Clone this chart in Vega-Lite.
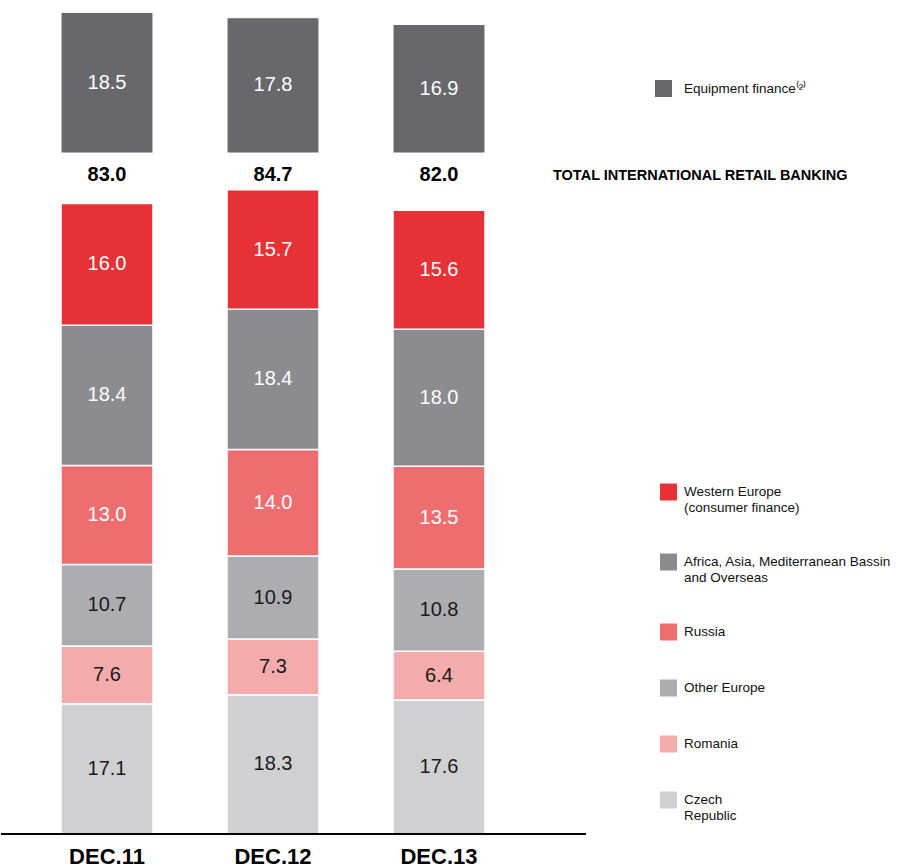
{
  "$schema": "https://vega.github.io/schema/vega-lite/v6.json",
  "padding": {"left": 0, "top": 11, "right": 0, "bottom": 0},
  "config": {
    "view": {"stroke": null},
    "font": "Liberation Sans",
    "concat": {"spacing": 0}
  },
  "datasets": {
    "equipment": [
      {"period": "DEC.11", "segment": "Equipment finance", "value": 18.5},
      {"period": "DEC.12", "segment": "Equipment finance", "value": 17.8},
      {"period": "DEC.13", "segment": "Equipment finance", "value": 16.9}
    ],
    "retail": [
      {"period": "DEC.11", "segment": "Czech\nRepublic", "value": 17.1},
      {"period": "DEC.11", "segment": "Romania", "value": 7.6},
      {"period": "DEC.11", "segment": "Other Europe", "value": 10.7},
      {"period": "DEC.11", "segment": "Russia", "value": 13.0},
      {"period": "DEC.11", "segment": "Africa, Asia, Mediterranean Bassin\nand Overseas", "value": 18.4},
      {"period": "DEC.11", "segment": "Western Europe\n(consumer finance)", "value": 16.0},
      {"period": "DEC.12", "segment": "Czech\nRepublic", "value": 18.3},
      {"period": "DEC.12", "segment": "Romania", "value": 7.3},
      {"period": "DEC.12", "segment": "Other Europe", "value": 10.9},
      {"period": "DEC.12", "segment": "Russia", "value": 14.0},
      {"period": "DEC.12", "segment": "Africa, Asia, Mediterranean Bassin\nand Overseas", "value": 18.4},
      {"period": "DEC.12", "segment": "Western Europe\n(consumer finance)", "value": 15.7},
      {"period": "DEC.13", "segment": "Czech\nRepublic", "value": 17.6},
      {"period": "DEC.13", "segment": "Romania", "value": 6.4},
      {"period": "DEC.13", "segment": "Other Europe", "value": 10.8},
      {"period": "DEC.13", "segment": "Russia", "value": 13.5},
      {"period": "DEC.13", "segment": "Africa, Asia, Mediterranean Bassin\nand Overseas", "value": 18.0},
      {"period": "DEC.13", "segment": "Western Europe\n(consumer finance)", "value": 15.6}
    ],
    "totals": [
      {"period": "DEC.11", "total": 83.0},
      {"period": "DEC.12", "total": 84.7},
      {"period": "DEC.13", "total": 82.0}
    ]
  },
  "resolve": {"scale": {"color": "independent"}, "legend": {"color": "independent"}},
  "vconcat": [
    {
      "width": 585,
      "height": 141,
      "data": {"name": "equipment"},
      "layer": [
        {
          "mark": {"type": "bar", "stroke": "white", "strokeWidth": 1},
          "encoding": {
            "x": {"field": "period", "type": "nominal", "axis": null,
                  "scale": {"range": [23, 521], "paddingInner": 0.446, "paddingOuter": 0.223}},
            "y": {"field": "value", "type": "quantitative", "stack": "zero", "axis": null,
                  "scale": {"domain": [0, 18.55], "nice": false, "zero": true}},
            "color": {
              "field": "segment", "type": "nominal",
              "scale": {"domain": ["Equipment finance"], "range": ["#68676c"]},
              "legend": {
                "orient": "none", "legendX": 654, "legendY": 68, "title": null,
                "padding": 0, "symbolType": "square", "symbolSize": 289,
                "symbolStrokeWidth": 0, "labelOffset": 12, "labelFontSize": 13.5,
                "labelColor": "#111111", "labelLimit": 300,
                "labelExpr": "datum.label + '⁽²⁾'"
              }
            }
          }
        },
        {
          "mark": {"type": "text", "fontSize": 20, "color": "white", "baseline": "middle"},
          "encoding": {
            "x": {"field": "period", "type": "nominal"},
            "y": {"field": "value", "type": "quantitative", "stack": "zero", "bandPosition": 0.5},
            "text": {"field": "value", "type": "quantitative", "format": ".1f"}
          }
        }
      ]
    },
    {
      "width": 585,
      "height": 680,
      "layer": [
        {
          "data": {"name": "retail"},
          "transform": [
            {"calculate": "indexof(['Czech\\nRepublic', 'Romania', 'Other Europe', 'Russia', 'Africa, Asia, Mediterranean Bassin\\nand Overseas', 'Western Europe\\n(consumer finance)'], datum.segment)", "as": "stackOrder"}
          ],
          "mark": {"type": "bar", "stroke": "white", "strokeWidth": 1.5},
          "encoding": {
            "x": {"field": "period", "type": "nominal",
                  "scale": {"range": [23, 521], "paddingInner": 0.446, "paddingOuter": 0.223},
                  "axis": {"title": null, "domain": false, "ticks": false, "labelAngle": 0,
                           "labelFontSize": 22, "labelFontWeight": "bold", "labelColor": "black",
                           "labelPadding": 12}},
            "y": {"field": "value", "type": "quantitative", "stack": "zero", "axis": null,
                  "scale": {"domain": [0, 89.3], "nice": false}},
            "order": {"field": "stackOrder", "type": "quantitative", "sort": "ascending"},
            "color": {
              "field": "segment", "type": "nominal",
              "sort": ["Western Europe\n(consumer finance)", "Africa, Asia, Mediterranean Bassin\nand Overseas", "Russia", "Other Europe", "Romania", "Czech\nRepublic"],
              "scale": {"range": ["#e63136", "#8c8b8f", "#ee6e70", "#adacb0", "#f4abab", "#d0d0d2"]},
              "legend": {
                "orient": "none", "legendX": 552, "legendY": 15,
                "title": "TOTAL INTERNATIONAL RETAIL BANKING",
                "titleFontSize": 14.5, "titleFontWeight": "bold", "titleColor": "black",
                "titleLimit": 500, "titlePadding": 300, "padding": 0,
                "symbolType": "square", "symbolSize": 289, "symbolStrokeWidth": 0,
                "symbolOffset": 107, "labelOffset": 7, "labelFontSize": 13.5,
                "labelColor": "#111111", "labelLimit": 400, "rowPadding": 39,
                "labelExpr": "split(datum.label, '\\n')"
              }
            }
          }
        },
        {
          "data": {"name": "retail"},
          "transform": [
            {"calculate": "indexof(['Czech\\nRepublic', 'Romania', 'Other Europe', 'Russia', 'Africa, Asia, Mediterranean Bassin\\nand Overseas', 'Western Europe\\n(consumer finance)'], datum.segment)", "as": "stackOrder"}
          ],
          "mark": {"type": "text", "fontSize": 20, "baseline": "middle"},
          "encoding": {
            "x": {"field": "period", "type": "nominal"},
            "y": {"field": "value", "type": "quantitative", "stack": "zero", "bandPosition": 0.5},
            "detail": {"field": "segment", "type": "nominal"},
            "order": {"field": "stackOrder", "type": "quantitative", "sort": "ascending"},
            "color": {
              "condition": {"test": "datum.segment === 'Other Europe' || datum.segment === 'Romania' || indexof(datum.segment, 'Czech') === 0", "value": "#1a1a1a"},
              "value": "white"
            },
            "text": {"field": "value", "type": "quantitative", "format": ".1f"}
          }
        },
        {
          "data": {"name": "totals"},
          "mark": {"type": "text", "fontSize": 20, "fontWeight": "bold", "color": "black", "baseline": "middle"},
          "encoding": {
            "x": {"field": "period", "type": "nominal"},
            "y": {"datum": 86.5},
            "text": {"field": "total", "type": "quantitative", "format": ".1f"}
          }
        },
        {
          "data": {"name": "totals"},
          "mark": {"type": "rule", "color": "black", "strokeWidth": 1.3},
          "encoding": {"y": {"datum": 0}}
        }
      ]
    }
  ]
}
